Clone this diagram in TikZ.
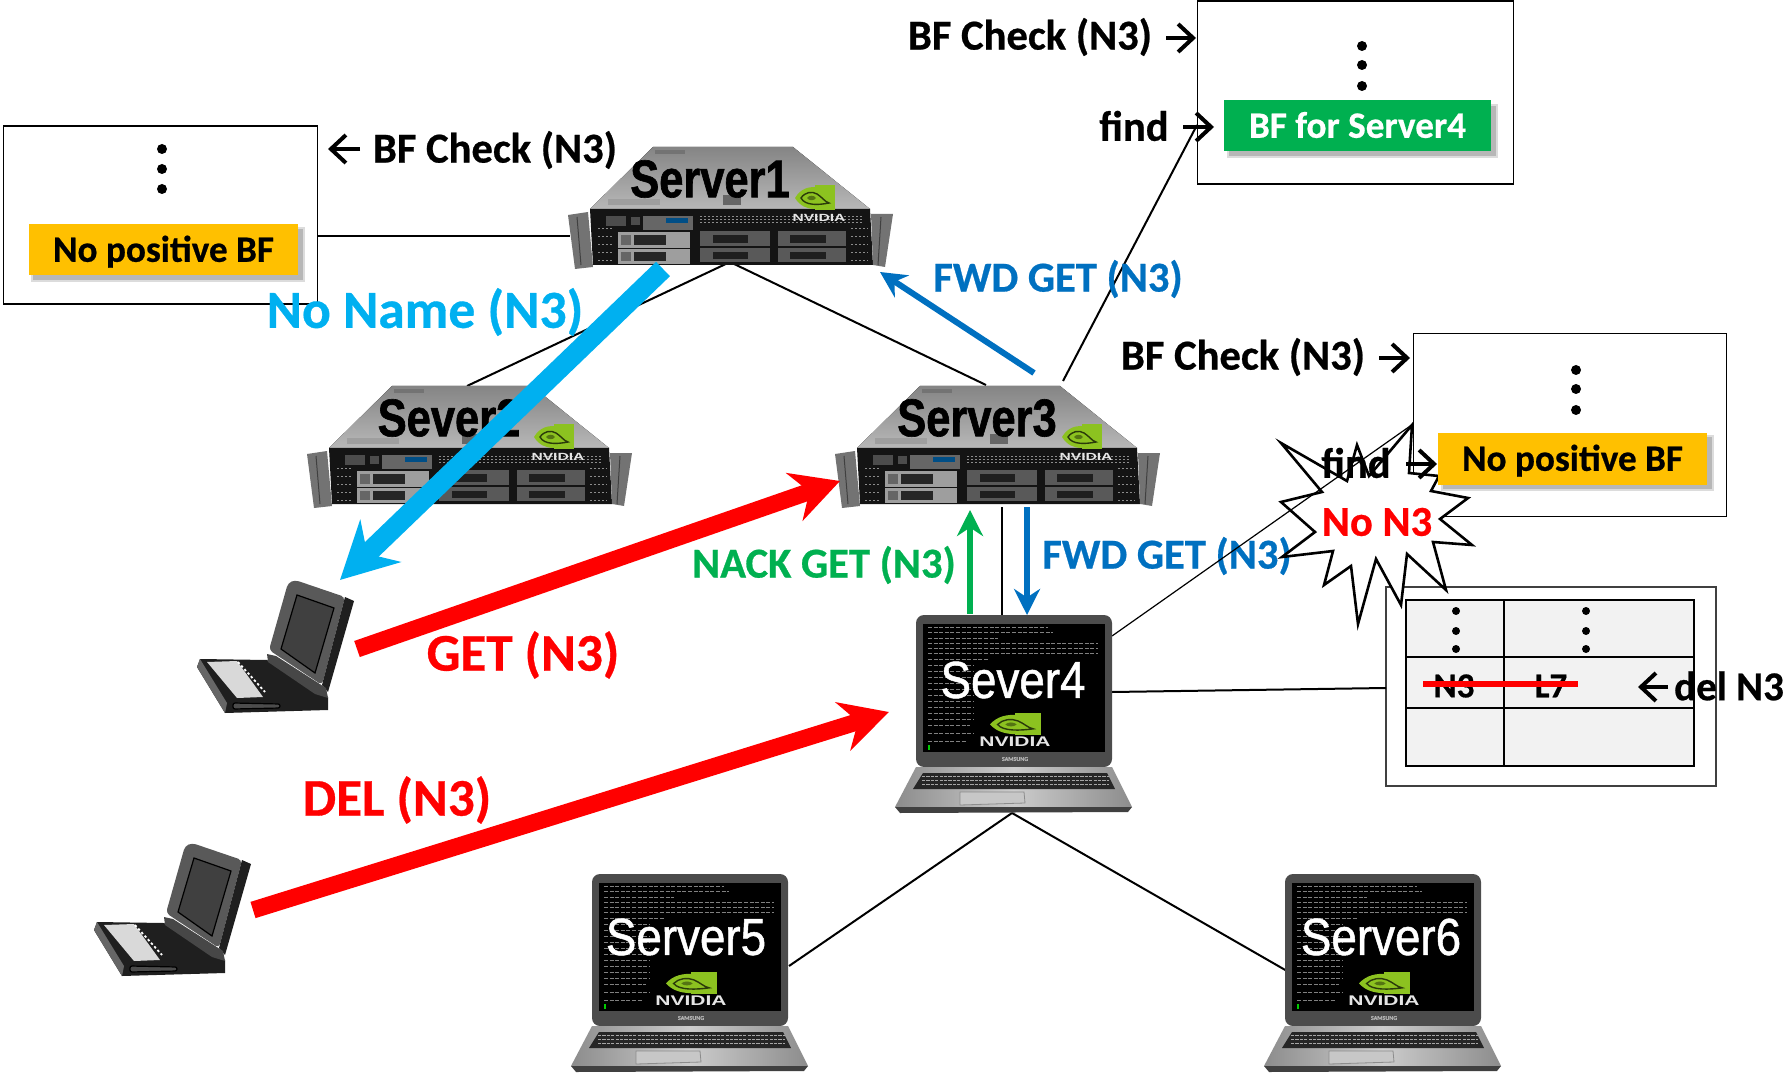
\documentclass[tikz,border=0pt]{standalone}
\usepackage{fontspec}
\setmainfont{Carlito}[BoldFeatures={FakeBold=0.6}]
\newfontfamily\condfont[FakeStretch=0.82,FakeBold=1.2]{Liberation Sans Bold}
\newfontfamily\condlight[FakeStretch=0.88,FakeBold=1.0]{Liberation Sans}
\newfontfamily\nvfont[FakeStretch=1.5]{Liberation Sans Bold}
\usetikzlibrary{arrows.meta}
\definecolor{cyanA}{HTML}{00B0F0}
\definecolor{blueA}{HTML}{0070C0}
\definecolor{greenA}{HTML}{00B050}
\definecolor{amberA}{HTML}{FFC000}
\definecolor{nvgreen}{HTML}{8CC220}
\definecolor{tblgray}{HTML}{F2F2F2}
\tikzset{
  panel/.style={draw=black,line width=.6pt,fill=white},
  wire/.style={draw=black,line width=1pt},
  lbl/.style={font=\bfseries\fontsize{21.3}{24}\selectfont,inner sep=0pt,text=black},
  badge/.style={font=\bfseries\fontsize{18.6}{22}\selectfont,inner sep=0pt,minimum height=25.5pt,text height=15pt,text depth=3.2pt,text centered},
  thin arrow/.style={-{Straight Barb[length=7.5pt,width=14pt,line width=2pt]},line width=2pt,black},
  mid arrow/.style={-{Stealth[length=13pt,width=13pt]},line width=3pt},
  big arrow/.style={-{Stealth[length=24pt,width=25pt]},line width=8.5pt,red},
  dotmark/.style={circle,fill=black,inner sep=0pt,minimum size=5pt},
}
% NVIDIA logo: w=40 h=25 units
\newcommand{\nvlogo}[4]{%
  \begin{scope}[shift={(#1,#2)},xscale=#3,yscale=#4]
    \fill[nvgreen] (20,0) rectangle (40,25);
    \fill[nvgreen] (0,13) .. controls (6,3) and (14,2) .. (20,2) -- (20,24) .. controls (12,24) and (5,21) .. (0,13) -- cycle;
    \draw[black!70!nvgreen,line width=.7pt] (6,13) .. controls (10,7) and (17,6) .. (22,9) .. controls (27,12) and (30,17) .. (34,18) .. controls (24,20) and (10,21) .. (6,13) -- cycle;
    \fill[nvgreen!60!black] (12,13) .. controls (14,10) and (19,10) .. (21,13) .. controls (19,16) and (14,16) .. (12,13) -- cycle;
  \end{scope}}
% rack server, 325 x 122 units
\newcommand{\serverpic}[3]{%
  \begin{scope}[shift={(#1,#2)}]
    \fill[top color=black!48,bottom color=black!28] (85,0) -- (225,0) -- (302,62) -- (22,62) -- cycle;
    \fill[black!55] (87,3) rectangle (117,7);
    \fill[black!38] (40,52) rectangle (92,58);
    \fill[black!60] (155,48) rectangle (173,58);
    \fill[black!92] (22,62) -- (302,62) -- (305,118) -- (25,118) -- cycle;
    \fill[black!55] (0,68) -- (20,65) -- (25,120) -- (7,122) -- cycle;
    \fill[black!55] (303,67) -- (325,67) -- (317,120) -- (305,118) -- cycle;
    \draw[black!75,line width=.5pt] (9,70) -- (13,118) (313,70) -- (310,118);
    % front panel items
    \fill[black!70] (38,69) rectangle (58,79);
    \fill[black!70] (63,70) rectangle (72,78);
    \fill[black!60] (75,69) rectangle (125,83);
    \fill[blueA!70!black] (98,71) rectangle (120,76);
    \foreach \yy in {70,73,76} \draw[black!45,line width=.5pt,dash pattern=on 1pt off 1pt] (132,\yy) -- (296,\yy);
    % drive bays
    \foreach \yy/\hh in {85/16,102/15}{
      \fill[black!38] (50,\yy) rectangle (122,\yy+\hh);
      \fill[black!85] (66,\yy+3) rectangle (98,\yy+\hh-3);
      \fill[black!60] (53,\yy+3) rectangle (63,\yy+\hh-3);
      \fill[black!65] (132,\yy-1) rectangle (202,\yy+\hh-2);
      \fill[black!88] (145,\yy+3) rectangle (180,\yy+\hh-5);
      \fill[black!65] (210,\yy-1) rectangle (278,\yy+\hh-2);
      \fill[black!88] (222,\yy+3) rectangle (258,\yy+\hh-5);
    }
    \foreach \yy in {82,90,98,106,114}{
      \draw[black!45,line width=.5pt,dash pattern=on 1pt off 1pt] (30,\yy) -- (46,\yy);
      \draw[black!45,line width=.5pt,dash pattern=on 1pt off 1pt] (283,\yy) -- (300,\yy);
    }
    \nvlogo{227}{38}{1}{1}
    \node[font=\nvfont\fontsize{5.2}{6}\selectfont,text=black!10,inner sep=0pt] at (251,71) {NVIDIA};
    \node[font=\condfont\fontsize{26.5}{28}\selectfont,text=black,inner sep=0pt] at (142,32) {#3};
  \end{scope}}
% silver laptop, 237 x 198 units
\newcommand{\laptoppic}[5]{%
  \begin{scope}[shift={(#1,#2)}]
    \fill[black!70,rounded corners=4pt] (21,152) -- (21,0) -- (217,0) -- (217,152) -- cycle;
    \fill[black] (28,9) rectangle (210,137);
    \foreach \yy/\xe in {12/120,17/125,23/70,28/170,33/170,38/170,44/60,50/45,56/45,62/45,68/45,74/45,80/45,86/45,92/45,98/45,104/45,110/42,118/45,126/38}
      \draw[black!50,line width=.5pt,dash pattern=on 2pt off .8pt] (33,\yy) -- (33+\xe,\yy);
    \fill[green!80!black] (33,130) rectangle (35,135);
    \shade[left color=black!45,right color=black!45,middle color=black!20] (21,152) -- (217,152) -- (237,192) -- (0,192) -- cycle;
    \fill[black!75] (0,192) -- (237,192) -- (233,197) -- (5,198) -- cycle;
    \fill[black!85] (28,158) -- (212,158) -- (220,174) -- (18,174) -- cycle;
    \foreach \yy in {161.5,165.5,169.5} \draw[black!35,line width=.4pt,dash pattern=on 1.6pt off .6pt] (27,\yy) -- (214,\yy);
    \draw[black!45,line width=.4pt,fill=black!22] (65,177) -- (129,177) -- (130,188) -- (65,190) -- cycle;
    \nvlogo{95}{98}{1.27}{.88}
    \node[font=\nvfont\fontsize{7}{8}\selectfont,text=black!10,inner sep=0pt] at (120,127) {NVIDIA};
    \node[font=\bfseries\fontsize{3}{3}\selectfont,text=black!30,inner sep=0pt] at (120,144) {SAMSUNG};
    \node[font=\condlight\fontsize{26}{28}\selectfont,text=white,inner sep=0pt] at (#4,#5) {#3};
  \end{scope}}
% old notebook
\newcommand{\oldlaptop}[2]{%
  \begin{scope}[shift={(#1,#2)}]
    \fill[black!88] (17,107) -- (20,99) -- (87,100) -- (148,137) -- (148,150) -- (45,153) -- cycle;
    \fill[black!60] (17,107) -- (45,153) -- (47,143) -- (20,99) -- cycle;
    \fill[black!65,rounded corners=2pt] (108,23) -- (115,20) -- (165,37) -- (142,125) -- (89,90) -- cycle;
    \fill[black!88] (165,37) -- (174,41) -- (148,132) -- (142,125) -- cycle;
    \draw[black,line width=.6pt,fill=black!75] (117,35) -- (154,48) -- (135,113) -- (101,89) -- cycle;
    \fill[black!72] (87,94) -- (96,96) -- (146,128) -- (148,138) -- (135,134) -- (88,102) -- cycle;
    \fill[black!15] (27,102) -- (57,101) -- (83,137) -- (57,138) -- cycle;
    \draw[white,line width=.9pt,dash pattern=on 1.2pt off 1.2pt] (58,102) -- (85,132);
    \draw[black,line width=.6pt,fill=black!70,rounded corners=1pt] (53,143) -- (100,144) -- (100,148) -- (53,149) -- cycle;
  \end{scope}}
\begin{document}
\begin{tikzpicture}[x=.5pt,y=-.5pt]
\useasboundingbox (0,0) rectangle (1791,1074);
% ports
\coordinate (p1b) at (730,262);
\coordinate (p1l) at (570,236);
\coordinate (p2t) at (467,386);
\coordinate (p3t) at (986,385);
\coordinate (p3u) at (1063,381);
\coordinate (p3d) at (1002,507);
\coordinate (p4t) at (1002,615);
\coordinate (p4ur) at (1112,636);
\coordinate (p4r) at (1112,692);
\coordinate (p4b) at (1012,813);
\coordinate (p5r) at (789,966);
\coordinate (p6l) at (1287,971);
\coordinate (bxl) at (318,236);
\coordinate (bxt) at (1197,125);
\coordinate (bxr) at (1413,424);
\coordinate (bxd) at (1386,688);
% panels
\node[panel,minimum width=157pt,minimum height=89pt,inner sep=0pt] (boxL) at (160.5,215) {};
\node[panel,minimum width=157.7pt,minimum height=91.5pt,inner sep=0pt] (boxT) at (1355.5,92.5) {};
\node[panel,minimum width=156.8pt,minimum height=91.5pt,inner sep=0pt] (boxR) at (1570,425) {};
\node[panel,draw=black!75,minimum width=165pt,minimum height=99.5pt,inner sep=0pt] (boxD) at (1551,686.5) {};
% connectors
\draw[wire] (bxl) -- (p1l);
\draw[wire] (p1b) -- (p2t);
\draw[wire] (p1b) -- (p3t);
\draw[wire] (p3u) -- (bxt);
\draw[wire] (p3d) -- (p4t);
\draw[wire] (p4r) -- (bxd);
\draw[wire] (p4b) -- (p5r);
\draw[wire] (p4b) -- (p6l);
% burst
\node[lbl,text=blueA] (tFWDb) at (1167,556) {FWD GET (N3)};
\draw[black,line width=1.3pt,fill=white,miter limit=10] (1281,443) -- (1322,492) -- (1281,502) -- (1315,532) -- (1282,557) -- (1333,551) -- (1324,585) -- (1351,566) -- (1358,624) -- (1376,559) -- (1401,605) -- (1407,554) -- (1446,590) -- (1433,542) -- (1472,545) -- (1440,519) -- (1468,498) -- (1431,491) -- (1439,476) -- (1409,473) -- (1412,425) -- (1369,476) -- (1357,445) -- (1347,481) -- cycle;
\draw[wire,line width=.6pt] (p4ur) -- (bxr);
% badges
\fill[black!45,opacity=.45] (33,229) rectangle (303,280);
\fill[black!45,opacity=.3] (31,227) rectangle (305,282);
\node[badge,fill=amberA,minimum width=134.7pt] (bfL) at (163.5,250) {No positive BF};
\fill[black!45,opacity=.45] (1229,106) rectangle (1496,156);
\fill[black!45,opacity=.3] (1227,104) rectangle (1498,158);
\node[badge,fill=greenA,text=white,minimum width=133.5pt] (bfT) at (1357.5,126) {BF for Server4};
\fill[black!45,opacity=.45] (1443,437) rectangle (1712,489);
\fill[black!45,opacity=.3] (1441,435) rectangle (1714,491);
\node[badge,fill=amberA,minimum width=134.7pt] (bfR) at (1572.5,459) {No positive BF};
% dots
\foreach \nm/\xx/\yy in {a/162/149,b/162/169,c/162/189,d/1362/46,e/1362/65,f/1362/86,g/1576/370,h/1576/389,i/1576/410}
  \node[dotmark] (dot\nm) at (\xx,\yy) {};
% table
\fill[tblgray] (1406,600) rectangle (1694,766);
\draw[black,line width=1.2pt] (1406,600) rectangle (1694,766);
\draw[black,line width=1pt] (1406,657) -- (1694,657) (1406,708) -- (1694,708) (1504,600) -- (1504,766);
\foreach \nm/\xx/\yy in {j/1456/611,k/1456/631,l/1456/649,m/1586/611,n/1586/631,o/1586/649}
  \node[dotmark,minimum size=4pt] (tdot\nm) at (\xx,\yy) {};
\node[font=\bfseries\fontsize{17.5}{20}\selectfont,inner sep=0pt] (tN3) at (1454,686) {N3};
\node[font=\bfseries\fontsize{17.5}{20}\selectfont,inner sep=0pt] (tL7) at (1551,686) {L7};
\coordinate (strikeA) at (1423,684);
\coordinate (strikeB) at (1578,684);
\draw[red,line width=3pt] (strikeA) -- (strikeB);
% devices
\serverpic{568}{147}{Server1}
\serverpic{307}{386}{Sever2}
\serverpic{835}{386}{Server3}
\laptoppic{895}{615}{Sever4}{118}{65}
\laptoppic{571}{874}{Server5}{115}{63}
\laptoppic{1264}{874}{Server6}{117}{63}
\oldlaptop{180}{560}
\oldlaptop{77}{823}
% free ends of the arrows
\coordinate (aCa) at (663,269);
\coordinate (aCb) at (340,580);
\coordinate (aGa) at (357,649);
\coordinate (aGb) at (840,481);
\coordinate (aDa) at (253,910);
\coordinate (aDb) at (889,712);
\coordinate (aFa) at (1034,373);
\coordinate (aFb) at (880,272);
\coordinate (aNa) at (970,614);
\coordinate (aNb) at (970,510);
\coordinate (aWa) at (1027,507);
\coordinate (aWb) at (1027,615);
\draw[big arrow,cyanA,line width=10pt,-{Stealth[length=28pt,width=29pt]}] (aCa) -- (aCb);
\draw[big arrow] (aGa) -- (aGb);
\draw[big arrow] (aDa) -- (aDb);
\draw[mid arrow,blueA] (aFa) -- (aFb);
\draw[mid arrow,greenA] (aNa) -- (aNb);
\draw[mid arrow,blueA] (aWa) -- (aWb);
% small arrows
\coordinate (sa1) at (1166,38);  \coordinate (sa2) at (1196,38);
\coordinate (sb1) at (360,149);  \coordinate (sb2) at (328,149);
\coordinate (sc1) at (1183,127); \coordinate (sc2) at (1214,127);
\coordinate (sd1) at (1379,358); \coordinate (sd2) at (1410,358);
\coordinate (se1) at (1406,464); \coordinate (se2) at (1437,464);
\coordinate (sf1) at (1668,687); \coordinate (sf2) at (1638,687);
\draw[thin arrow] (sa1) -- (sa2);
\draw[thin arrow] (sb1) -- (sb2);
\draw[thin arrow] (sc1) -- (sc2);
\draw[thin arrow] (sd1) -- (sd2);
\draw[thin arrow] (se1) -- (se2);
\draw[thin arrow] (sf1) -- (sf2);
% labels
\node[lbl] (tBFl) at (495,150) {BF Check (N3)};
\node[lbl] (tBFt) at (1030,37) {BF Check (N3)};
\node[lbl] (tBFr) at (1243,357) {BF Check (N3)};
\node[lbl] (tFt) at (1134,126) {find};
\node[lbl] (tFr) at (1356,463) {find};
\node[lbl,text=cyanA,font=\bfseries\fontsize{26.8}{32}\selectfont] (tNN) at (425,312) {No Name (N3)};
\node[lbl,text=blueA] (tFWDa) at (1058,279) {FWD GET (N3)};
\node[lbl,text=greenA] (tNK) at (824,565) {NACK GET (N3)};
\node[lbl,text=red,font=\bfseries\fontsize{26.5}{30}\selectfont] (tGET) at (523,655) {GET (N3)};
\node[lbl,text=red,font=\bfseries\fontsize{26.5}{30}\selectfont] (tDEL) at (397,800) {DEL (N3)};
\node[lbl,text=red] (tNo) at (1377,522) {No N3};
\node[lbl,font=\bfseries\fontsize{20.5}{24}\selectfont] (tDel) at (1729,686) {del N3};
\end{tikzpicture}
\end{document}
